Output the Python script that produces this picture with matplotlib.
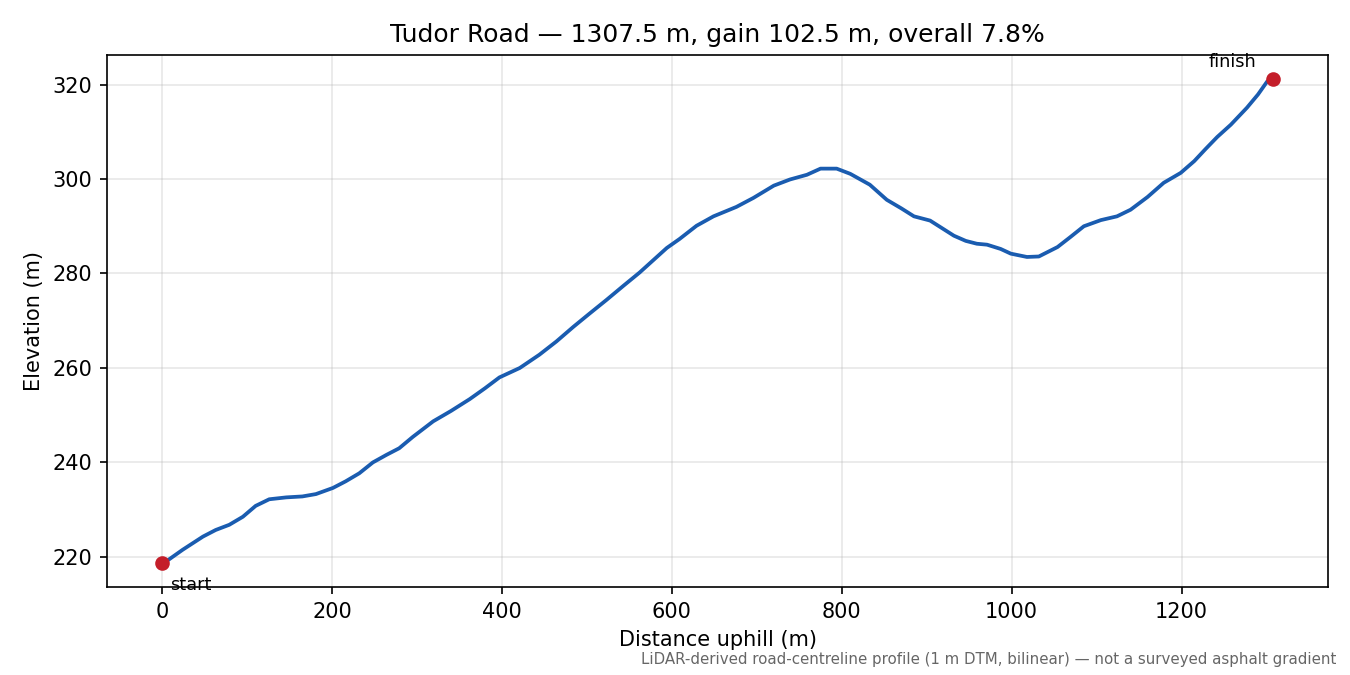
import matplotlib.pyplot as plt

# profile (distance m, elevation m)
distance = [0, 2, 24, 48, 63, 79, 95, 110, 126, 146, 165, 181, 201, 216, 232,
            248, 264, 279, 295, 319, 340, 362, 380, 397, 421, 444, 464,
            484, 503, 523, 543, 562, 578, 594, 609, 629, 649, 676, 696, 720,
            739, 759, 775, 794, 810, 833, 853, 870, 885, 904, 918, 932, 946,
            959, 971, 987, 999, 1018, 1032, 1054, 1069, 1085, 1105, 1124,
            1140, 1160, 1179, 1199, 1215, 1228, 1242, 1258, 1277, 1290, 1301,
            1307.5]
elevation = [218.7, 218.7, 221.5, 224.3, 225.7, 226.8, 228.5, 230.8, 232.2,
             232.6, 232.8, 233.3, 234.6, 236.0, 237.7, 240.0, 241.6, 243.0,
             245.4, 248.7, 250.9, 253.4, 255.7, 258.0, 260.0, 262.8,
             265.6, 268.7, 271.5, 274.4, 277.4, 280.2, 282.8, 285.4, 287.3,
             290.1, 292.1, 294.1, 296.0, 298.6, 299.9, 300.9, 302.2, 302.2,
             301.1, 298.8, 295.6, 293.8, 292.1, 291.2, 289.6, 288.0, 286.9,
             286.3, 286.1, 285.2, 284.2, 283.5, 283.6, 285.6, 287.7, 290.0,
             291.3, 292.1, 293.5, 296.2, 299.2, 301.3, 303.8, 306.3, 308.9,
             311.5, 315.1, 317.9, 320.7, 321.2]

name = "Tudor Road"
length = 1307.5
gain = 102.5

fig, ax = plt.subplots(figsize=(9, 4.5), dpi=150)
ax.plot(distance, elevation, color="#1a5cb0", lw=1.8)
ax.plot([distance[0], distance[-1]], [elevation[0], elevation[-1]], "o",
        color="#c41e2a", ms=6)

ax.annotate("start", (distance[0], elevation[0]), xytext=(4, -6),
            textcoords="offset points", ha="left", va="top", fontsize=8.5)
ax.annotate("finish", (distance[-1], elevation[-1]), xytext=(-8, 4),
            textcoords="offset points", ha="right", va="bottom", fontsize=8.5)

ax.set_title(f"{name} — {length} m, gain {gain} m, overall {gain / length * 100:.1f}%")
ax.set_xlabel("Distance uphill (m)")
ax.set_ylabel("Elevation (m)")
ax.grid(True, alpha=0.3)

fig.text(0.99, 0.012, "LiDAR-derived road-centreline profile (1 m DTM, bilinear) — not a surveyed asphalt gradient",
         ha="right", va="bottom", fontsize=7.2, color="0.4")

fig.subplots_adjust(left=0.079, right=0.984, top=0.919, bottom=0.130)
fig.savefig("out.png")
